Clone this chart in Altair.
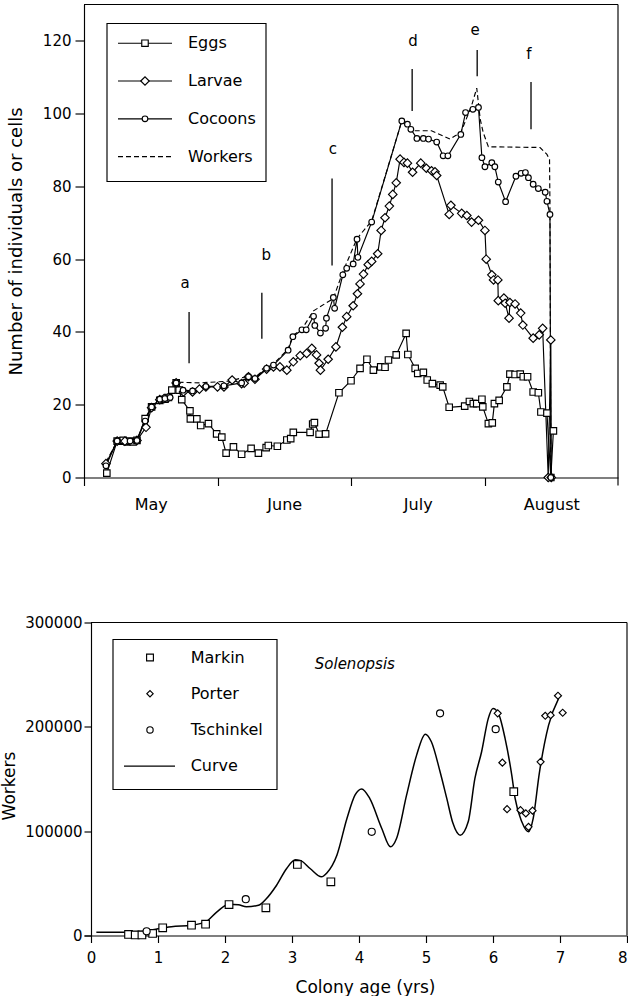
import altair as alt
import pandas as pd

# ------------------------------------------------------------------
# Top panel: brood and workers through one season (x = days since 1 May,
# each month drawn as 31 days; y = number of individuals or cells)
# ------------------------------------------------------------------
month_names = ["May", "June", "July", "August"]

egg_day = [5.3, 7.7, 8.4, 9.1, 10.0, 10.7, 11.4, 12.3, 14.2, 15.7, 17.6, 18.8, 19.6, 20.4,
           21.4, 22.1, 22.7, 24.6, 24.7, 26.2, 27.1, 28.9, 30.8, 32.0, 33.0, 34.7, 36.6,
           38.8, 40.5, 42.3, 42.8, 44.9, 47.1, 48.0, 48.6, 52.5, 53.1, 53.5, 54.6, 56.1,
           59.2, 62.0, 64.1, 65.7, 67.2, 68.9, 69.9, 70.7, 72.5, 74.8, 75.2, 76.9, 77.5,
           78.8, 79.7, 80.9, 82.7, 83.3, 84.8, 88.4, 89.5, 90.4, 91.2, 92.4, 92.6, 93.9,
           94.8, 95.3, 96.4, 98.2, 98.9, 100.1, 101.3, 102.0, 103.0, 104.3, 105.5, 106.1,
           107.5, 108.4, 109.0]
egg_count = [1.2, 10, 10, 10.2, 9.8, 10, 9.8, 10.2, 16.2, 19.4, 21.2, 21.5, 22, 24,
             26, 24, 21.4, 18.3, 16.1, 16.1, 14.3, 14.8, 12, 11.1, 6.7, 8.4, 6.4,
             8.0, 6.7, 8.2, 8.8, 8.6, 10.3, 10.7, 12.4, 12.4, 14.7, 15.1, 11.9, 12,
             23.3, 26.6, 30, 32.5, 29.5, 30.4, 30.3, 32.3, 33.7, 39.6, 33.8, 30, 28.6,
             28.9, 26.8, 25.8, 25.4, 24.9, 19.3, 19.6, 20.9, 20.3, 20.3, 21.5, 19.4, 14.8,
             15, 20.3, 21.2, 24.9, 28.4, 28.3, 28.4, 27.7, 27.7, 23.5, 23.3, 18,
             17.7, 0, 12.8]

larva_day = [5.1, 7.7, 9.5, 12.3, 14.4, 15.7, 17.6, 18.6, 19.6, 21.4, 23.1, 25.2, 26.8,
             28.3, 31.0, 32.5, 34.4, 36.6, 37.2, 38.2, 39.7, 42.4, 44.0, 45.5, 47.1, 48.6,
             50.2, 51.7, 52.9, 54.0, 54.6, 54.9, 56.7, 58.5, 60.0, 61.0, 62.5, 63.5, 64.1,
             64.9, 66.0, 66.8, 68.2, 69.0, 69.9, 70.9, 71.7, 72.5, 73.4, 74.3, 75.1, 76.3,
             78.2, 79.5, 80.7, 81.5, 81.9, 84.8, 85.2, 87.7, 88.9, 90.0, 91.6, 93.1, 93.4,
             94.7, 95.1, 96.1, 96.2, 97.5, 97.8, 98.7, 98.9, 100.1, 101.4, 101.9, 104.3,
             105.7, 106.5, 107.8, 108.4, 108.5]
larva_count = [3.8, 10, 10, 10.2, 13.8, 19.2, 21.4, 21.7, 22, 26, 23.5, 23.5, 24.3,
               24.9, 24.9, 24.9, 26.8, 25.8, 25.9, 27.7, 27, 29.8, 30.4, 30.4, 29.5, 31.8,
               33.5, 34.1, 35.5, 33.7, 31.4, 29.5, 32.5, 35.9, 41.3, 44.2, 47.2, 50.5, 53.2,
               55.9, 58.5, 59.4, 61.5, 67.9, 71.4, 74.6, 77.8, 81, 87.5, 86.6, 86.4, 83.9,
               86.4, 85, 84.3, 84, 83, 72.3, 74.8, 72.6, 72, 70.2, 70.7, 67.9, 60,
               55.7, 54.3, 54.3, 48.6, 49.3, 47.9, 43.8, 48.1, 47.7, 45.2, 41.9, 38.3,
               39.2, 41, 0, 37.8, 0]

cocoon_day = [5.1, 7.7, 10.7, 12.3, 14.2, 15.7, 17.6, 18.8, 20.0, 21.4, 23.0, 25.2, 28.3,
              32.5, 36.6, 38.2, 39.7, 42.4, 44.0, 47.4, 48.5, 50.6, 51.6, 53.3, 53.6, 54.9,
              56.1, 56.3, 57.9, 58.2, 60.1, 61.0, 62.5, 63.4, 63.6, 66.8, 73.8, 75.1, 75.9,
              77.3, 78.8, 80.0, 81.9, 83.4, 84.5, 87.5, 88.6, 90.3, 91.6, 92.4, 93.1, 94.7,
              95.4, 96.2, 97.9, 100.3, 101.5, 102.5, 103.2, 104.3, 105.5, 107.1, 107.5,
              108.2, 108.4]
cocoon_count = [3.2, 10, 10, 10.2, 15.5, 19.4, 21.5, 21.7, 22, 26, 24, 23.8, 25,
                25.2, 26, 27.7, 27.2, 30, 30.9, 35, 38.7, 40.6, 40.6, 44.3, 41.8, 39.7,
                41, 43.8, 49.5, 46.5, 55.7, 57.5, 58.7, 65.5, 60.5, 70.2, 98, 97.1, 95.7,
                93.2, 93.2, 93, 92.2, 88.4, 88.4, 94.3, 100.3, 101.2, 101.7, 87.9, 85.4, 86.5,
                85.4, 81.2, 75.8, 82.8, 83.6, 83.8, 82.4, 80.6, 79.4, 78.4, 75.9,
                72.3, 0]

worker_day = [5.1, 7.7, 12.3, 14.2, 15.7, 17.6, 20.0, 21.4, 26.9, 33.9, 38.2, 39.7, 42.4,
              44.0, 47.4, 48.5, 50.6, 53.3, 57.9, 60.1, 63.4, 66.8, 73.8, 76.5, 80.7, 85.0,
              86.2, 87.5, 90.0, 91.2, 92.0, 92.7, 93.9, 105.9, 107.5, 108.1, 108.2, 108.4]
worker_count = [4.2, 10, 10.3, 16, 19.6, 21.6, 22.3, 26.2, 26, 26.5, 27.9, 27.5, 30.2,
                31.2, 35.3, 39, 40.8, 45.8, 49.2, 56.5, 65.7, 70.5, 98, 95.3, 95.3, 93,
                93.9, 94.8, 102.2, 107, 98.5, 94.8, 90.9, 90.7, 88.8, 87.4, 74, 0]

# event markers a-f
tag_text = ["a", "b", "c", "d", "e", "f"]
tag_day = [23.5, 42.3, 57.8, 76.4, 90.8, 103.3]
tag_count = [53.5, 61.2, 90.2, 120.0, 123.0, 116.4]
tag_line_day = [24.4, 41.3, 57.6, 76.2, 91.3, 103.8]
tag_line_lo = [31.4, 38.1, 58.3, 100.7, 110.3, 95.7]
tag_line_hi = [45.5, 50.8, 82.2, 112.3, 117.5, 108.7]

top_legend = ["Eggs", "Larvae", "Cocoons", "Workers"]

# ------------------------------------------------------------------
# Bottom panel: Solenopsis colony size vs colony age
# ------------------------------------------------------------------
markin_age = [0.56, 0.66, 0.76, 0.92, 1.07, 1.50, 1.71, 2.06, 2.61, 3.08, 3.58, 6.31]
markin_workers = [1000, 500, 500, 2000, 7400, 9900, 10800, 29700, 26500, 68100, 51500, 137800]

porter_age = [6.07, 6.14, 6.21, 6.41, 6.49, 6.53, 6.59, 6.71, 6.78, 6.86, 6.97, 7.04]
porter_workers = [212900, 165600, 121100, 120100, 117000, 104200, 119600, 166500,
                  210600, 211200, 229800, 213500]

tschinkel_age = [0.83, 2.31, 4.19, 5.21, 6.04]
tschinkel_workers = [4000, 34800, 99400, 212900, 197800]

curve_age = [0.08, 0.5, 0.8, 1.0, 1.2, 1.5, 1.71, 1.88, 2.06, 2.2, 2.32, 2.5, 2.62, 2.77,
             2.92, 3.05, 3.12, 3.27, 3.44, 3.52, 3.67, 3.82, 3.94, 4.04, 4.16, 4.34, 4.47,
             4.56, 4.71, 4.86, 4.99, 5.08, 5.21, 5.31, 5.40, 5.51, 5.63, 5.73, 5.83, 5.93,
             6.0, 6.08, 6.18, 6.28, 6.33, 6.43, 6.53, 6.60, 6.69, 6.83, 6.98]
curve_workers = [3000, 3200, 4000, 6500, 8500, 9800, 13000, 22700, 30000, 29500, 27500,
                 29000, 35500, 48200, 64200, 72500, 72000, 64200, 56300, 60000, 77000,
                 112200, 134500, 140500, 131400, 102600, 85000, 93000, 134500, 172900,
                 193000, 185700, 157000, 131400, 108000, 96200, 109000, 150500, 176100,
                 208100, 217500, 212900, 188900, 153700, 131400, 109000, 99400, 112200,
                 155000, 201600, 227200]

bottom_legend = ["Markin", "Porter", "Tschinkel", "Curve"]
genus_label = "Solenopsis"
genus_age, genus_workers = 3.34, 259800

# ------------------------------------------------------------------
FONT = "DejaVu Sans"
INK = "black"
LW = 1.15

MONTH_LEN = 31
DAY_MAX = MONTH_LEN * len(month_names)
COUNT_MAX = 130
TOP_W, TOP_H = 534, 473
TICK_DROP = -8 * COUNT_MAX / TOP_H   # right-edge tick below the axis

AGE_MIN, AGE_MAX = -7 / 67, 8
WORK_MAX = 300000
BOT_W, BOT_H = 543, 313

one = pd.DataFrame({"k": [0]})


def series(xs, ys, xname, yname):
    return pd.DataFrame({xname: xs, yname: ys, "i": list(range(len(xs)))})


# ---------------- top panel ----------------
xs_top = alt.Scale(domain=[0, DAY_MAX], nice=False, zero=False)
ys_top = alt.Scale(domain=[0, COUNT_MAX], nice=False, zero=False)
month_expr = f"{month_names}[round(datum.value / {MONTH_LEN})]"
x_top_axis = alt.Axis(values=[MONTH_LEN * k for k in range(len(month_names))],
                      labelExpr=month_expr, labelOffset=TOP_W / (2 * len(month_names)),
                      tickSize=8, labelPadding=11, labelFontSize=16, labelFlush=False,
                      labelOverlap=False, labelBound=False, grid=False)
y_top_axis = alt.Axis(values=list(range(0, 121, 20)), tickSize=9, labelPadding=4,
                      labelFontSize=15, titleFontSize=18, titleAngle=270,
                      titleBaseline="alphabetic", titleX=-63, grid=False)


def XT(f):
    return alt.X(f"{f}:Q", scale=xs_top, axis=x_top_axis, title=None)


def YT(f):
    return alt.Y(f"{f}:Q", scale=ys_top, axis=y_top_axis, title="Number of individuals or cells")


top_series = [
    ("Eggs", egg_day, egg_count, "square", 42),
    ("Larvae", larva_day, larva_count, "diamond", 72),
    ("Cocoons", cocoon_day, cocoon_count, "circle", 32),
]

top_layers = []
wdf = series(worker_day, worker_count, "day", "n")
top_layers.append(alt.Chart(wdf).mark_line(color=INK, strokeWidth=LW, strokeDash=[5, 3])
                  .encode(x=XT("day"), y=YT("n"), order="i:Q"))
for name, d, c, shp, sz in top_series:
    df = series(d, c, "day", "n")
    top_layers.append(alt.Chart(df).mark_line(color=INK, strokeWidth=LW)
                      .encode(x=XT("day"), y=YT("n"), order="i:Q"))
for name, d, c, shp, sz in top_series:
    df = series(d, c, "day", "n")
    top_layers.append(alt.Chart(df).mark_point(shape=shp, size=sz, filled=True, fill="white",
                                               stroke=INK, strokeWidth=LW, opacity=1)
                      .encode(x=XT("day"), y=YT("n")))

# frame (top and right edges; right edge also gives the last month tick)
frame_top = pd.DataFrame({"x0": [0], "x1": [DAY_MAX], "y0": [COUNT_MAX], "y1": [TICK_DROP]})
top_layers.append(alt.Chart(frame_top).mark_rule(color=INK, strokeWidth=LW)
                  .encode(x=XT("x0"), x2="x1:Q", y=YT("y0")))
top_layers.append(alt.Chart(frame_top).mark_rule(color=INK, strokeWidth=LW, clip=False)
                  .encode(x=XT("x1"), y=YT("y1"), y2="y0:Q"))

# event markers
tags = pd.DataFrame({"t": tag_text, "td": tag_day, "tc": tag_count,
                     "ld": tag_line_day, "lo": tag_line_lo, "hi": tag_line_hi})
top_layers.append(alt.Chart(tags).mark_rule(color=INK, strokeWidth=1.3)
                  .encode(x=XT("ld"), y=YT("lo"), y2="hi:Q"))
top_layers.append(alt.Chart(tags).mark_text(fontSize=15, color=INK, baseline="middle", align="center")
                  .encode(x=XT("td"), y=YT("tc"), text="t:N"))

# legend (drawn inside the plot, pixel coordinates)
leg_top = pd.DataFrame({"label": top_legend, "row": list(range(len(top_legend)))})
leg_top["py"] = 38.7 + 37.8 * leg_top["row"]
top_layers.append(alt.Chart(one).mark_rect(fill="white", stroke=INK, strokeWidth=LW)
                  .encode(x=alt.value(23), x2=alt.value(182), y=alt.value(19), y2=alt.value(177)))
top_layers.append(alt.Chart(leg_top).transform_filter("datum.row < 3")
                  .mark_rule(color=INK, strokeWidth=LW)
                  .encode(x=alt.value(34), x2=alt.value(88), y=alt.Y("py:Q", scale=None)))
top_layers.append(alt.Chart(leg_top).transform_filter("datum.row == 3")
                  .mark_rule(color=INK, strokeWidth=LW, strokeDash=[5, 3])
                  .encode(x=alt.value(34), x2=alt.value(88), y=alt.Y("py:Q", scale=None)))
for k, (name, d, c, shp, sz) in enumerate(top_series):
    top_layers.append(alt.Chart(leg_top).transform_filter(f"datum.row == {k}")
                      .mark_point(shape=shp, size=sz, filled=True, fill="white", stroke=INK,
                                  strokeWidth=LW, opacity=1)
                      .encode(x=alt.value(61), y=alt.Y("py:Q", scale=None)))
top_layers.append(alt.Chart(leg_top).mark_text(align="left", baseline="middle", fontSize=16, color=INK)
                  .encode(x=alt.value(104), y=alt.Y("py:Q", scale=None), text="label:N"))

top = alt.layer(*top_layers).properties(width=TOP_W, height=TOP_H)

# ---------------- bottom panel ----------------
xs_bot = alt.Scale(domain=[AGE_MIN, AGE_MAX], nice=False, zero=False)
ys_bot = alt.Scale(domain=[0, WORK_MAX], nice=False, zero=False)
x_bot_axis = alt.Axis(values=list(range(0, 9)), tickSize=7, labelPadding=8, labelFontSize=15,
                      labelFlush=True, titleFontSize=17, titlePadding=14, titleX=281,
                      titleAlign="center", grid=False)
y_bot_axis = alt.Axis(values=[0, 100000, 200000, 300000], format="d", offset=-7, tickSize=7,
                      labelPadding=2, labelFontSize=15, titleFontSize=17, titleAngle=270,
                      titleBaseline="alphabetic", titleX=-77, titleY=163, grid=False)


def XB(f):
    return alt.X(f"{f}:Q", scale=xs_bot, axis=x_bot_axis, title="Colony age (yrs)")


def YB(f):
    return alt.Y(f"{f}:Q", scale=ys_bot, axis=y_bot_axis, title="Workers")


bot_layers = []
frame_bot = pd.DataFrame({"x0": [0], "x1": [AGE_MAX], "y0": [WORK_MAX], "y1": [0]})
bot_layers.append(alt.Chart(frame_bot).mark_rule(color=INK, strokeWidth=LW)
                  .encode(x=XB("x0"), x2="x1:Q", y=YB("y0")))
bot_layers.append(alt.Chart(frame_bot).mark_rule(color=INK, strokeWidth=LW)
                  .encode(x=XB("x1"), y=YB("y1"), y2="y0:Q"))

cdf = series(curve_age, curve_workers, "age", "w")
bot_layers.append(alt.Chart(cdf).mark_line(color=INK, strokeWidth=1.5, interpolate="monotone")
                  .encode(x=XB("age"), y=YB("w"), order="i:Q"))

bot_series = [
    ("Markin", markin_age, markin_workers, "square", 58),
    ("Porter", porter_age, porter_workers, "diamond", 50),
    ("Tschinkel", tschinkel_age, tschinkel_workers, "circle", 50),
]
for name, a, w, shp, sz in bot_series:
    df = series(a, w, "age", "w")
    bot_layers.append(alt.Chart(df).mark_point(shape=shp, size=sz, filled=True, fill="white",
                                               stroke=INK, strokeWidth=LW, opacity=1)
                      .encode(x=XB("age"), y=YB("w")))

gdf = pd.DataFrame({"age": [genus_age], "w": [genus_workers], "t": [genus_label]})
bot_layers.append(alt.Chart(gdf).mark_text(align="left", baseline="middle", fontSize=15,
                                           fontStyle="italic", color=INK)
                  .encode(x=XB("age"), y=YB("w"), text="t:N"))

leg_bot = pd.DataFrame({"label": bottom_legend, "row": list(range(len(bottom_legend)))})
leg_bot["py"] = 35 + 36.2 * leg_bot["row"]
bot_layers.append(alt.Chart(one).mark_rect(fill="white", stroke=INK, strokeWidth=LW)
                  .encode(x=alt.value(29), x2=alt.value(193), y=alt.value(17), y2=alt.value(167)))
for k, (name, a, w, shp, sz) in enumerate(bot_series):
    bot_layers.append(alt.Chart(leg_bot).transform_filter(f"datum.row == {k}")
                      .mark_point(shape=shp, size=sz * 0.8, filled=True, fill="white", stroke=INK,
                                  strokeWidth=LW, opacity=1)
                      .encode(x=alt.value(66), y=alt.Y("py:Q", scale=None)))
bot_layers.append(alt.Chart(leg_bot).transform_filter("datum.row == 3")
                  .mark_rule(color=INK, strokeWidth=LW)
                  .encode(x=alt.value(40), x2=alt.value(91), y=alt.Y("py:Q", scale=None)))
bot_layers.append(alt.Chart(leg_bot).mark_text(align="left", baseline="middle", fontSize=16, color=INK)
                  .encode(x=alt.value(106.7), y=alt.Y("py:Q", scale=None), text="label:N"))

bottom = alt.layer(*bot_layers).properties(width=BOT_W, height=BOT_H)

chart = (
    alt.vconcat(top, bottom, spacing=103)
    .properties(padding={"left": 0, "right": 0, "top": 3.5, "bottom": 0}, background="white")
    .configure(font=FONT)
    .configure_view(strokeWidth=0)
    .configure_axis(domainColor=INK, tickColor=INK, labelColor=INK, titleColor=INK,
                    domainWidth=LW, tickWidth=LW, labelFont=FONT, titleFont=FONT,
                    titleFontWeight="normal")
)

chart.save("out.html", embed_options={"renderer": "svg", "actions": False})
